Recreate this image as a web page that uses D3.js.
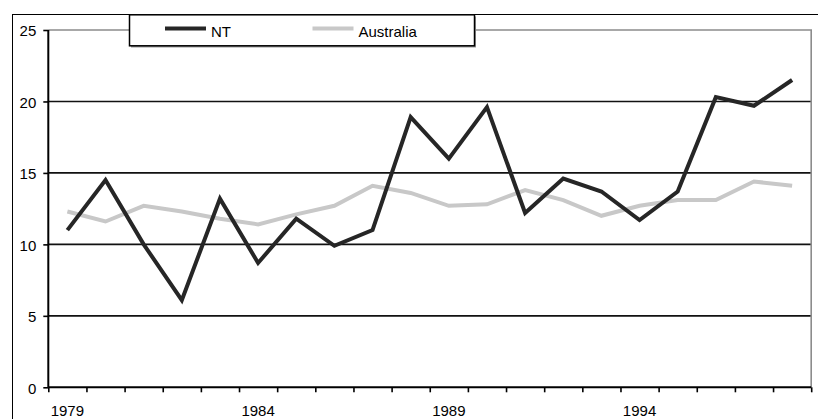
<!DOCTYPE html>
<html>
<head>
<meta charset="utf-8">
<script src="https://cdn.jsdelivr.net/npm/d3@7"></script>
<style>
  html, body { margin: 0; padding: 0; background: #fff; }
  svg { display: block; font-family: "Liberation Sans", Arial, sans-serif; }
</style>
</head>
<body>
<svg id="chart" width="818" height="419"></svg>
<script>
// Years on the category axis
const years = d3.range(1979, 1999).map(String);
// Yearly values for the Northern Territory
const ntValues = [11.0, 14.5, 10.0, 6.1, 13.2, 8.7, 11.8, 9.9, 11.0, 18.9,
                  16.0, 19.6, 12.2, 14.6, 13.7, 11.7, 13.7, 20.3, 19.7, 21.5];
// Yearly values for Australia as a whole
const ausValues = [12.3, 11.6, 12.7, 12.3, 11.8, 11.4, 12.1, 12.7, 14.1, 13.6,
                   12.7, 12.8, 13.8, 13.1, 12.0, 12.7, 13.1, 13.1, 14.4, 14.1];
// Value axis ticks and labelled years
const yTicks = [0, 5, 10, 15, 20, 25];
const labelledYears = ["1979", "1984", "1989", "1994"];
const seriesNames = ["NT", "Australia"];

const svg = d3.select("#chart");
const plotLeft = 48.3, plotRight = 811.2, plotTop = 30, plotBottom = 387.3;

const x = d3.scaleBand().domain(years).range([plotLeft, plotRight]).padding(0);
const xEdge = d3.scaleLinear().domain([0, years.length]).range([plotLeft, plotRight]);
const y = d3.scaleLinear().domain([0, 25]).range([plotBottom, plotTop]);

// Outer chart frame (runs off the right and bottom edges)
svg.append("rect")
  .attr("x", 12.5).attr("y", 14.5).attr("width", 900).attr("height", 500)
  .attr("fill", "#fff").attr("stroke", "#000").attr("stroke-width", 1);

// Horizontal gridlines
svg.append("g")
  .selectAll("line")
  .data(yTicks.filter(v => v > 0 && v < 25))
  .join("line")
  .attr("x1", plotLeft).attr("x2", plotRight)
  .attr("y1", d => y(d)).attr("y2", d => y(d))
  .attr("stroke", "#111").attr("stroke-width", 1.6);

// Plot area border (top and right)
svg.append("path")
  .attr("d", `M${plotLeft},${y(25)}H${plotRight}V${plotBottom}`)
  .attr("fill", "none").attr("stroke", "#8c8c8c").attr("stroke-width", 1.6);

// Value axis
const yAxis = svg.append("g")
  .attr("transform", `translate(${plotLeft},0)`)
  .call(d3.axisLeft(y).tickValues(yTicks).tickSize(5).tickPadding(7).tickFormat(d3.format("d")));
yAxis.select(".domain").attr("stroke", "#000").attr("stroke-width", 2)
  .attr("d", `M0,${y(25)}V${plotBottom}`);
yAxis.selectAll(".tick line").attr("stroke", "#000").attr("stroke-width", 1.6);
yAxis.selectAll(".tick text").attr("font-size", 15).attr("fill", "#000")
  .attr("dy", "0.38em")
  .attr("font-family", "Liberation Sans, Arial, sans-serif");

// Category axis: ticks between categories
const xTickAxis = svg.append("g")
  .attr("transform", `translate(0,${plotBottom})`)
  .call(d3.axisBottom(xEdge).tickValues(d3.range(years.length + 1)).tickSize(5).tickFormat(""));
xTickAxis.select(".domain").attr("stroke", "#000").attr("stroke-width", 2)
  .attr("d", `M${plotLeft},0H${plotRight}`);
xTickAxis.selectAll(".tick line").attr("stroke", "#000").attr("stroke-width", 1.6);

// Category axis: year labels centred on categories
const xLabelAxis = svg.append("g")
  .attr("transform", `translate(0,${plotBottom})`)
  .call(d3.axisBottom(x).tickValues(labelledYears).tickSize(0).tickPadding(18.5));
xLabelAxis.select(".domain").remove();
xLabelAxis.selectAll(".tick text").attr("font-size", 15).attr("fill", "#000")
  .attr("font-family", "Liberation Sans, Arial, sans-serif");

const line = d3.line()
  .x((d, i) => x(years[i]) + x.bandwidth() / 2)
  .y(d => y(d))
  .curve(d3.curveLinear);

svg.append("path")
  .datum(ausValues)
  .attr("d", line)
  .attr("fill", "none").attr("stroke", "#c8c8c8").attr("stroke-width", 4)
  .attr("stroke-linejoin", "miter");

svg.append("path")
  .datum(ntValues)
  .attr("d", line)
  .attr("fill", "none").attr("stroke", "#262626").attr("stroke-width", 4)
  .attr("stroke-linejoin", "miter");

// Legend with a thin drop shadow
const legend = svg.append("g");
legend.append("rect")
  .attr("x", 131).attr("y", 16.5).attr("width", 345).attr("height", 31)
  .attr("fill", "#999");
legend.append("rect")
  .attr("x", 129.5).attr("y", 14.8).attr("width", 345).attr("height", 31)
  .attr("fill", "#fff").attr("stroke", "#000").attr("stroke-width", 1.5);

const legendItems = [
  { name: seriesNames[0], color: "#262626", x0: 165 },
  { name: seriesNames[1], color: "#c8c8c8", x0: 312.5 }
];
legendItems.forEach(item => {
  legend.append("line")
    .attr("x1", item.x0).attr("x2", item.x0 + 41)
    .attr("y1", 28.5).attr("y2", 28.5)
    .attr("stroke", item.color).attr("stroke-width", 4);
  legend.append("text")
    .attr("x", item.x0 + 46).attr("y", 36.5)
    .attr("font-size", 15).attr("fill", "#000")
    .text(item.name);
});
</script>
</body>
</html>
